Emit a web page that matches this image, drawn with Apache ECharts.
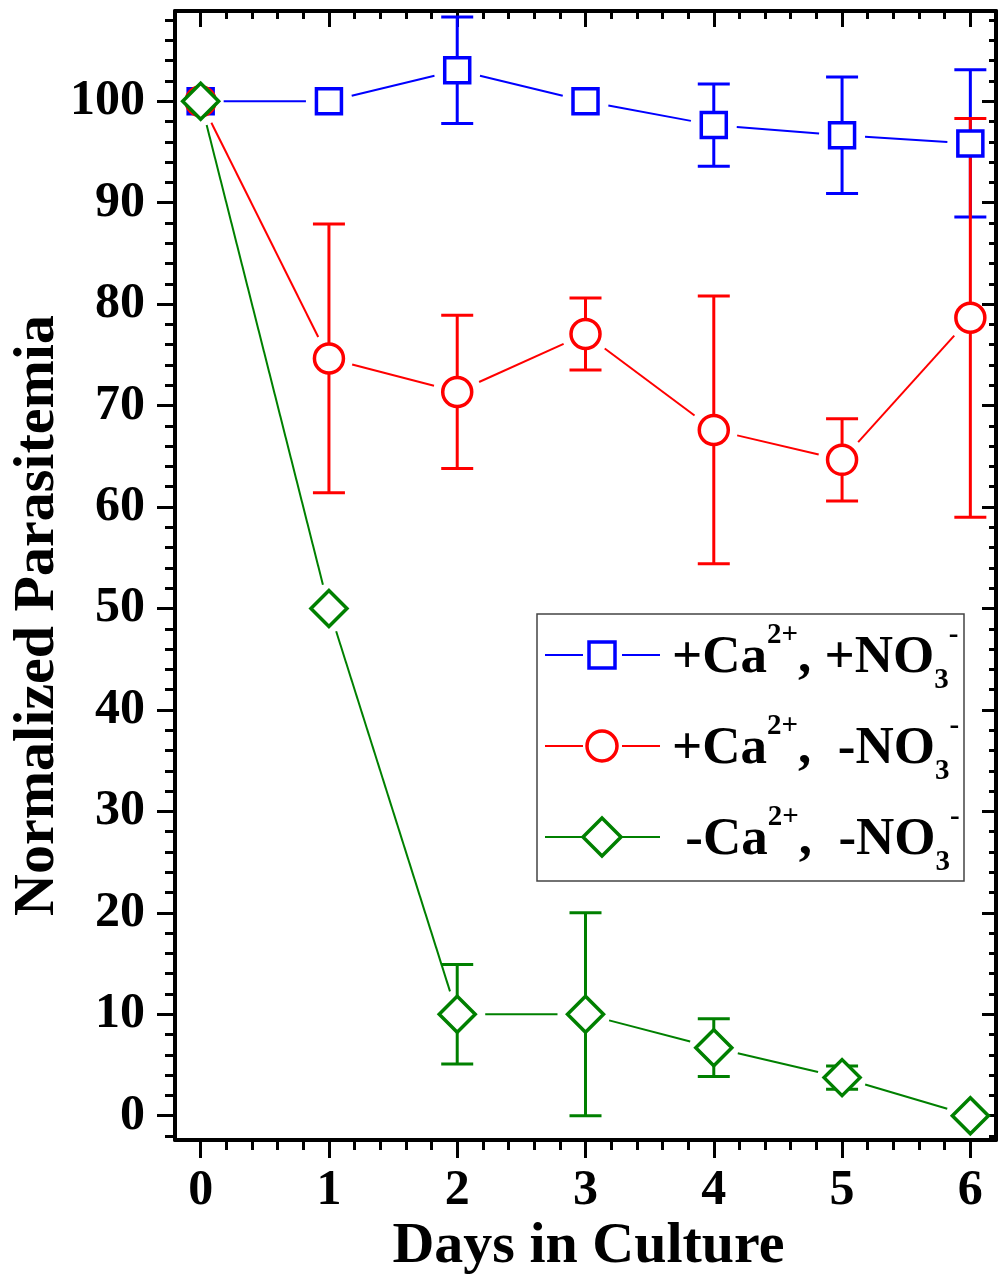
<!DOCTYPE html>
<html><head><meta charset="utf-8">
<script src="https://cdn.jsdelivr.net/npm/echarts@6/dist/echarts.min.js"></script>
<style>html,body{margin:0;padding:0;background:#fff}#c{width:1000px;height:1281px}</style>
</head><body><div id="c"></div>
<script>
// ---------- data ----------
const days = [0, 1, 2, 3, 4, 5, 6];
const seriesNames = ['+Ca\u00b2\u207a, +NO\u2083\u207b', '+Ca\u00b2\u207a, -NO\u2083\u207b', '-Ca\u00b2\u207a, -NO\u2083\u207b'];
const blueMean  = [100, 100, 103.05, 100, 97.65, 96.65, 95.85];
const blueErr   = [0, 0, 5.25, 0, 4.05, 5.75, 7.25];
const redMean   = [100, 74.65, 71.35, 77.05, 67.6, 64.65, 78.65];
const redErr    = [0, 13.25, 7.55, 3.55, 13.2, 4.05, 19.65];
const greenMean = [100, 50, 10, 10, 6.7, 3.75, 0];
const greenErr  = [0, 0, 4.9, 10, 2.85, 1.15, 0];
const xTickLabels = [0, 1, 2, 3, 4, 5, 6];
const yTickLabels = [0, 10, 20, 30, 40, 50, 60, 70, 80, 90, 100];
const legendRich = [
  '{m|+Ca}{sup|2+}{m|, +NO}{sub|3}{sup|-}',
  '{m|+Ca}{sup|2+}{m|,  -NO}{sub|3}{sup|-}',
  '{m| -Ca}{sup|2+}{m|,  -NO}{sub|3}{sup|-}'
];

// ---------- styling ----------
const X_MIN = -0.2, X_MAX = 6.2, Y_MIN = -2.4, Y_MAX = 108.9;
const FONT = "'Liberation Serif','Times New Roman',serif";
const colors = ['#0000ff', '#ff0000', '#008000'];
const shapes = ['rect', 'circle', 'diamond'];
const symSizes = [25, 29, 36];

const xMinor = [];
for (let k = 1; k < 31; k++) if (k % 5 !== 0) xMinor.push(+(k * 0.2).toFixed(2));
const yMinor = [];
for (let v = -2; v <= 108; v += 2) if (v % 10 !== 0) yMinor.push(v);

function gap(shape, ux, uy) {
  const ax = Math.abs(ux), ay = Math.abs(uy);
  if (shape === 'rect') return 14 / Math.max(ax, ay) + 9;
  if (shape === 'circle') return 16 + 8;
  return 20 / (ax + ay) + 8;
}

function buildSeries(idx, mean, err) {
  const color = colors[idx], shape = shapes[idx];
  const segs = [];
  for (let i = 0; i < days.length - 1; i++) segs.push([days[i], mean[i], days[i + 1], mean[i + 1]]);
  const pts = days.map((d, i) => [d, mean[i]]);
  const errs = [];
  days.forEach((d, i) => { if (err[i] > 0) errs.push([d, mean[i] - err[i], mean[i] + err[i]]); });
  return [
    {
      type: 'custom', name: seriesNames[idx], silent: true, data: segs,
      encode: { x: [0, 2], y: [1, 3] },
      renderItem: function (params, api) {
        const p0 = api.coord([api.value(0), api.value(1)]);
        const p1 = api.coord([api.value(2), api.value(3)]);
        const dx = p1[0] - p0[0], dy = p1[1] - p0[1], L = Math.hypot(dx, dy);
        const ux = dx / L, uy = dy / L;
        const g = gap(shape, ux, uy);
        return { type: 'line', shape: { x1: p0[0] + ux * g, y1: p0[1] + uy * g, x2: p1[0] - ux * g, y2: p1[1] - uy * g },
          style: { stroke: color, lineWidth: 2 } };
      }
    },
    {
      type: 'scatter', name: seriesNames[idx], silent: true, data: pts,
      symbol: shape, symbolSize: symSizes[idx],
      itemStyle: { color: '#fff', borderColor: color, borderWidth: 3.5, opacity: 1 }
    },
    {
      type: 'custom', name: seriesNames[idx], silent: true, data: errs,
      encode: { x: 0, y: [1, 2] },
      renderItem: function (params, api) {
        const x = api.value(0);
        const lo = api.coord([x, api.value(1)]);
        const hi = api.coord([x, api.value(2)]);
        const hw = 16;
        const st = { stroke: color, lineWidth: 3 };
        return { type: 'group', children: [
          { type: 'line', shape: { x1: lo[0], y1: lo[1], x2: hi[0], y2: hi[1] }, style: st },
          { type: 'line', shape: { x1: lo[0] - hw, y1: lo[1], x2: lo[0] + hw, y2: lo[1] }, style: st },
          { type: 'line', shape: { x1: hi[0] - hw, y1: hi[1], x2: hi[0] + hw, y2: hi[1] }, style: st }
        ] };
      }
    }
  ];
}

const tickLine = { color: '#000', width: 3 };
const labelStyle = { fontFamily: FONT, fontWeight: 'bold', fontSize: 50, color: '#000' };
function xAx(pos, vals, len, inside, main) {
  return {
    type: 'value', position: pos, min: X_MIN, max: X_MAX,
    axisLine: { show: main, onZero: false, lineStyle: { color: '#000', width: 4 } },
    axisTick: { show: true, inside: inside, length: len, customValues: vals, lineStyle: tickLine },
    axisLabel: main && pos === 'bottom' ? Object.assign({ show: true, customValues: xTickLabels, margin: 26 }, labelStyle) : { show: false },
    splitLine: { show: false }
  };
}
function yAx(pos, vals, len, inside, main) {
  return {
    type: 'value', position: pos, min: Y_MIN, max: Y_MAX,
    axisLine: { show: main, onZero: false, lineStyle: { color: '#000', width: 4 } },
    axisTick: { show: true, inside: inside, length: len, customValues: vals, lineStyle: tickLine },
    axisLabel: main && pos === 'left' ? Object.assign({ show: true, customValues: yTickLabels, margin: 30 }, labelStyle) : { show: false },
    splitLine: { show: false }
  };
}

const xAxes = [
  xAx('bottom', xTickLabels, 18, false, true),
  xAx('bottom', xMinor, 10, false, false),
  xAx('top', xTickLabels, 16, true, true),
  xAx('top', xMinor, 8, true, false)
];
Object.assign(xAxes[0], {
  name: 'Days in Culture', nameLocation: 'middle', nameGap: 78, nameMoveOverlap: false,
  nameTextStyle: { fontFamily: FONT, fontWeight: 'bold', fontSize: 58, color: '#000', padding: [0, 0, 0, 6] }
});
const yAxes = [
  yAx('left', yTickLabels, 18, false, true),
  yAx('left', yMinor, 10, false, false),
  yAx('right', yTickLabels, 14, true, true),
  yAx('right', yMinor, 7, true, false)
];
Object.assign(yAxes[0], {
  name: 'Normalized Parasitemia', nameLocation: 'middle', nameRotate: 90, nameGap: 108, nameMoveOverlap: false,
  nameTextStyle: { fontFamily: FONT, fontWeight: 'bold', fontSize: 58, color: '#000', padding: [0, 80, 0, 0] }
});

// legend (drawn as graphic)
const LG = { x: 537, y: 614, w: 427, h: 267, row0: 655, step: 91, symX: 602, textX: 672 };
const graphics = [{ type: 'rect', z: 100, shape: { x: LG.x, y: LG.y, width: LG.w, height: LG.h },
  style: { fill: '#fff', stroke: '#444', lineWidth: 1.5 } }];
for (let i = 0; i < 3; i++) {
  const cy = LG.row0 + LG.step * i, c = colors[i];
  graphics.push({ type: 'line', z: 101, shape: { x1: 545, y1: cy, x2: 583, y2: cy }, style: { stroke: c, lineWidth: 2 } });
  graphics.push({ type: 'line', z: 101, shape: { x1: 622, y1: cy, x2: 660, y2: cy }, style: { stroke: c, lineWidth: 2 } });
  const st = { fill: '#fff', stroke: c, lineWidth: 3.5 };
  if (shapes[i] === 'rect') graphics.push({ type: 'rect', z: 101, shape: { x: LG.symX - 13, y: cy - 13, width: 26, height: 26 }, style: st });
  else if (shapes[i] === 'circle') graphics.push({ type: 'circle', z: 101, shape: { cx: LG.symX, cy: cy, r: 15 }, style: st });
  else graphics.push({ type: 'polygon', z: 101, shape: { points: [[LG.symX, cy - 19], [LG.symX + 19, cy], [LG.symX, cy + 19], [LG.symX - 19, cy]] }, style: st });
  graphics.push({ type: 'text', z: 101, x: LG.textX, y: cy - 34, style: {
    text: legendRich[i], align: 'left', verticalAlign: 'top',
    rich: {
      m: { fontFamily: FONT, fontWeight: 'bold', fontSize: 53, lineHeight: 74, fill: '#000', verticalAlign: 'middle' },
      sup: { fontFamily: FONT, fontWeight: 'bold', fontSize: 29, lineHeight: 28, fill: '#000', verticalAlign: 'top' },
      sub: { fontFamily: FONT, fontWeight: 'bold', fontSize: 29, lineHeight: 28, fill: '#000', verticalAlign: 'bottom' }
    } } });
}

const chart = echarts.init(document.getElementById('c'), null, { renderer: 'canvas' });
chart.setOption({
  animation: false,
  backgroundColor: '#fff',
  grid: { left: 175, right: 4, top: 11, bottom: 141, containLabel: false },
  xAxis: xAxes,
  yAxis: yAxes,
  series: [].concat(buildSeries(0, blueMean, blueErr), buildSeries(1, redMean, redErr), buildSeries(2, greenMean, greenErr)),
  graphic: graphics
});
</script></body></html>
